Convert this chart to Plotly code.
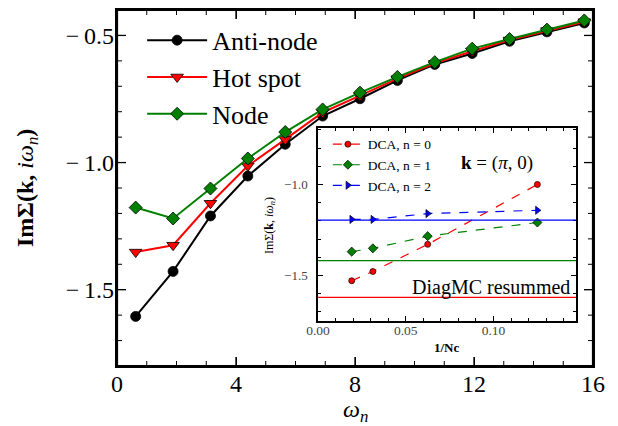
import plotly.graph_objects as go

# ---- main panel data ----
omega = [0.628, 1.885, 3.142, 4.398, 5.655, 6.912, 8.168, 9.425, 10.681, 11.938, 13.195, 14.451, 15.708]
antinode = [-1.605, -1.428, -1.210, -1.053, -0.928, -0.817, -0.749, -0.677, -0.614, -0.571, -0.523, -0.486, -0.451]
hotspot = [-1.352, -1.325, -1.160, -1.013, -0.909, -0.803, -0.737, -0.670, -0.610, -0.562, -0.518, -0.481, -0.446]
node = [-1.177, -1.220, -1.102, -0.984, -0.880, -0.791, -0.725, -0.663, -0.605, -0.552, -0.514, -0.477, -0.441]
main_xticks = [0, 4, 8, 12, 16]
main_yticks = [-1.5, -1.0, -0.5]
main_yticklabels = ["\u2212\u20091.5", "\u2212\u20091.0", "\u2212\u20090.5"]

# ---- inset data ----
inv_nc = [0.0192, 0.03125, 0.0625, 0.125]
dca_n0 = [-1.529, -1.478, -1.329, -1.000]
dca_n1 = [-1.369, -1.351, -1.284, -1.209]
dca_n2 = [-1.192, -1.192, -1.160, -1.142]
diagmc = [-1.620, -1.418, -1.196]  # n = 0, 1, 2
inset_xticks = [0.0, 0.05, 0.10]
inset_xticklabels = ["0.00", "0.05", "0.10"]
inset_yticks = [-1.5, -1.0]
inset_yticklabels = ["\u22121.5", "\u22121.0"]

SERIF = "Liberation Serif"
RED, GREEN, BLUE = "#ff0000", "#008000", "#0000ff"

X_RANGE = [0, 16]
Y_RANGE = [-1.8, -0.4]
PLOT_W, PLOT_H = 476, 356  # main plot area in px (618-117-25, 426-10-60)

fig = go.Figure()

main_series = [
    ("Anti-node", antinode, "black", "circle", 10),
    ("Hot spot", hotspot, RED, "triangle-down", 11),
    ("Node", node, GREEN, "diamond", 10),
]
for name, ys, col, sym, sz in main_series:
    fig.add_trace(go.Scatter(
        x=omega, y=ys, name=name, mode="lines+markers",
        line=dict(color=col, width=2),
        marker=dict(symbol=sym, size=sz, color=col, line=dict(color="black", width=0.8)),
        xaxis="x", yaxis="y", legend="legend", legendgroup=name,
    ))

inset_series = [
    ("DCA, n = 0", dca_n0, RED, "circle", 6),
    ("DCA, n = 1", dca_n1, GREEN, "diamond", 7),
    ("DCA, n = 2", dca_n2, BLUE, "triangle-right", 7),
]
for name, ys, col, sym, sz in inset_series:
    fig.add_trace(go.Scatter(
        x=inv_nc, y=ys, name=name, mode="lines+markers",
        line=dict(color=col, width=1.2, dash="dash"),
        marker=dict(symbol=sym, size=sz, color=col, line=dict(color="black", width=0.7)),
        xaxis="x2", yaxis="y2", legend="legend2", legendgroup=name,
    ))

# DiagMC resummed horizontal reference lines
for val, col in zip(diagmc, [RED, GREEN, BLUE]):
    fig.add_shape(type="line", xref="x2 domain", yref="y2", x0=0, x1=1, y0=val, y1=val,
                  line=dict(color=col, width=1.3), layer="above")

# inset background
fig.add_shape(type="rect", xref="x2 domain", yref="y2 domain", x0=0, x1=1, y0=0, y1=1,
              fillcolor="#d2f4c6", line=dict(width=0), layer="below")
# main frame
fig.add_shape(type="rect", xref="x domain", yref="y domain", x0=0, x1=1, y0=0, y1=1,
              line=dict(color="black", width=2.2), layer="above")

# main-panel tick marks on all four sides (matplotlib style, pointing inward)
x_minor = [float(v) for v in range(X_RANGE[0], X_RANGE[1] + 1) if v not in main_xticks]
y_minor = [round(-1.8 + 0.1 * k, 1) for k in range(15)]
y_minor = [v for v in y_minor if v not in main_yticks]
for vals, ln, w in [(main_xticks, 9, 1.3), (x_minor, 5, 1.0)]:
    f = ln / PLOT_H
    for v in vals:
        for a, b in [(0, f), (1, 1 - f)]:
            fig.add_shape(type="line", xref="x", yref="paper", x0=v, x1=v, y0=a, y1=b,
                          line=dict(color="black", width=w), layer="above")
for vals, ln, w in [(main_yticks, 9, 1.3), (y_minor, 5, 1.0)]:
    f = ln / PLOT_W
    for v in vals:
        for a, b in [(0, f), (1, 1 - f)]:
            fig.add_shape(type="line", xref="paper", yref="y", x0=a, x1=b, y0=v, y1=v,
                          line=dict(color="black", width=w), layer="above")

base = dict(showgrid=False, zeroline=False, showline=True, linecolor="black",
            tickcolor="black", automargin=False)

fig.update_layout(
    width=618, height=426,
    margin=dict(l=117, r=25, t=10, b=60),
    paper_bgcolor="white", plot_bgcolor="white",
    font=dict(family=SERIF, color="black"),
    xaxis=dict(**base, domain=[0, 1], anchor="y", range=X_RANGE, tickvals=main_xticks,
               ticks="inside", ticklen=9, tickwidth=1.3, mirror="ticks", linewidth=2.2,
               tickfont=dict(size=24, family=SERIF), ticklabelstandoff=-5),
    yaxis=dict(**base, domain=[0, 1], anchor="x", range=Y_RANGE, tickvals=main_yticks,
               ticktext=main_yticklabels, ticks="inside", ticklen=9, tickwidth=1.3,
               mirror="ticks", linewidth=2.2,
               tickfont=dict(size=24, family=SERIF), ticklabelstandoff=-4),
    xaxis2=dict(**base, domain=[0.4223, 0.9643], anchor="y2", range=[0, 0.147], mirror="ticks",
                ticks="inside", tickvals=inset_xticks, ticktext=inset_xticklabels,
                ticklen=5, tickwidth=1, linewidth=1.5,
                minor=dict(dtick=0.01, tick0=0, ticklen=3, tickwidth=0.8, tickcolor="black", ticks="inside"),
                tickfont=dict(size=13.5, family=SERIF, color="#444"), ticklabelstandoff=-4),
    yaxis2=dict(**base, domain=[0.1264, 0.6685], anchor="x2", range=[-1.75, -0.69], mirror="ticks",
                ticks="inside", tickvals=inset_yticks, ticktext=inset_yticklabels,
                ticklen=5, tickwidth=1, linewidth=1.5,
                minor=dict(dtick=0.1, tick0=0, ticklen=3, tickwidth=0.8, tickcolor="black", ticks="inside"),
                tickfont=dict(size=13, family=SERIF, color="#444"), ticklabelstandoff=6),
    legend=dict(x=0.0528, y=0.981, xanchor="left", yanchor="top", bgcolor="rgba(0,0,0,0)",
                font=dict(size=26, family=SERIF), itemwidth=60, tracegroupgap=0),
    legend2=dict(x=0.443, y=0.666, xanchor="left", yanchor="top", bgcolor="rgba(0,0,0,0)",
                 font=dict(size=13.5, family=SERIF), itemwidth=30, tracegroupgap=0),
    showlegend=True,
    annotations=[
        # main axis titles
        dict(text="<i>\u03c9<sub>n</sub></i>", xref="paper", yref="paper", x=0.502, y=-0.125,
             xanchor="center", yanchor="middle", showarrow=False, font=dict(size=24, family=SERIF)),
        dict(text="<b>Im\u03a3(k, </b><i>i\u03c9<sub>n</sub></i><b>)</b>", xref="paper", yref="paper",
             x=-0.189, y=0.5, xanchor="center", yanchor="middle", textangle=-90, showarrow=False,
             font=dict(size=24, family=SERIF)),
        # inset axis titles
        dict(text="<b>1/Nc</b>", xref="paper", yref="paper", x=0.693, y=0.0506,
             xanchor="center", yanchor="middle", showarrow=False, font=dict(size=13, family=SERIF)),
        dict(text="Im\u03a3(<b>k</b>, <i>i\u03c9<sub>n</sub></i>)", xref="paper", yref="paper",
             x=0.3214, y=0.396, xanchor="center", yanchor="middle", textangle=-90, showarrow=False,
             font=dict(size=12, family=SERIF)),
        # inset labels
        dict(text="<b>k</b> = (<i>\u03c0</i>, 0)", xref="x2 domain", yref="y2 domain", x=0.694, y=0.819,
             xanchor="center", yanchor="middle", showarrow=False, font=dict(size=19, family=SERIF)),
        dict(text="DiagMC resummed", xref="x2 domain", yref="y2 domain", x=0.985, y=0.176,
             xanchor="right", yanchor="middle", showarrow=False, font=dict(size=20, family=SERIF)),
    ],
)

fig.write_html("out.html", config={"displayModeBar": False},
               post_script="document.body.style.margin='0px';")
